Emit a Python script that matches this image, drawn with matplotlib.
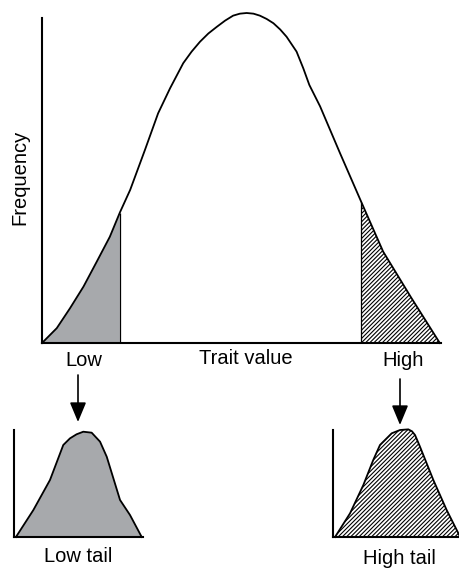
import matplotlib
matplotlib.use("Agg")
import matplotlib.pyplot as plt
import numpy as np

plt.rcParams['font.family'] = ['Liberation Sans', 'DejaVu Sans']
plt.rcParams['hatch.linewidth'] = 0.8

# Main distribution (trait value vs frequency)
main_x = [0, 3.7, 7.0, 10.4, 13.7, 17.0, 19.5, 22.1, 25.8, 29.1, 32.1, 35.4, 37.5, 39.6,
          41.7, 43.8, 45.9, 47.9, 49.6, 51.3, 53.0, 54.6, 56.3, 58.0, 59.7, 61.3, 63.8,
          65.5, 67.0, 69.7, 74.7, 80.0, 85.5, 92.5, 99.7]
main_y = [0, 4.5, 10.5, 17.1, 24.6, 32.2, 39.5, 46.4, 58.5, 69.6, 77.2, 84.8, 88.3, 91.3,
          93.8, 95.8, 97.7, 99.2, 99.8, 100, 99.8, 99.2, 98.2, 96.9, 95.0, 92.8, 88.3,
          83.2, 78.2, 71.7, 57.5, 42.8, 27.7, 13.8, 0]
low_cut = 19.5
high_cut = 80.0

# Low tail distribution
low_x = [1.5, 15.0, 27.9, 38.2, 43.4, 48.5, 53.7, 60.2, 66.7, 71.9, 82.2, 89.9, 99.0]
low_y = [0, 25.2, 53.3, 86.0, 92.2, 96.0, 98.4, 97.5, 89.1, 75.0, 34.6, 20.6, 0]

# High tail distribution
high_x = [1.6, 13.4, 23.9, 31.7, 37.0, 46.2, 52.8, 59.3, 62.2, 64.6, 68.5, 79.0, 89.5, 98.7, 100]
high_y = [0, 22.1, 48.6, 72.0, 86.0, 96.9, 100, 100.6, 98.8, 95.3, 84.4, 53.3, 25.2, 3.5, 0]

labels = {"xlabel": "Trait value", "ylabel": "Frequency", "low": "Low", "high": "High",
          "low_tail": "Low tail", "high_tail": "High tail"}

W, H = 460, 569
fig = plt.figure(figsize=(W / 100, H / 100), dpi=100)

def px_axes(left, top, right, bottom):
    return fig.add_axes([left / W, 1 - bottom / H, (right - left) / W, (bottom - top) / H])

GRAY = '#a7a9ac'
LW = 1.3
SPW = 1.5
HATCH = '////////'

def style(ax, ytop):
    ax.set_xlim(0, 100)
    ax.set_ylim(0, 100)
    for s in ['top', 'right']:
        ax.spines[s].set_visible(False)
    ax.spines['left'].set_linewidth(SPW)
    ax.spines['bottom'].set_linewidth(SPW)
    ax.spines['left'].set_bounds(0, ytop)
    ax.set_xticks([])
    ax.set_yticks([])
    ax.patch.set_alpha(0)

# Main axes
ax = px_axes(42, 13, 441, 343)
style(ax, 98.5)
mx = np.array(main_x)
my = np.array(main_y)
lm = mx <= low_cut
ax.fill_between(mx[lm], 0, my[lm], facecolor=GRAY, edgecolor='none')
ax.vlines(low_cut, 0, my[mx == low_cut][0], color='black', lw=0.9)
hm = mx >= high_cut
ax.fill_between(mx[hm], 0, my[hm], facecolor='white', edgecolor='black', hatch=HATCH, lw=0)
ax.vlines(high_cut, 0, my[mx == high_cut][0], color='black', lw=0.9)
ax.plot(mx, my, color='black', lw=LW, clip_on=False, solid_joinstyle='round')

# Low tail inset
ax1 = px_axes(14, 430, 143, 537)
style(ax1, 100)
ax1.fill_between(low_x, 0, low_y, facecolor=GRAY, edgecolor='none')
ax1.plot(low_x, low_y, color='black', lw=LW, clip_on=False, solid_joinstyle='round')

# High tail inset
ax2 = px_axes(333, 430, 460, 537)
style(ax2, 100)
ax2.fill_between(high_x, 0, high_y, facecolor='white', edgecolor='black', hatch=HATCH, lw=0)
ax2.plot(high_x, high_y, color='black', lw=LW, clip_on=False, solid_joinstyle='round')

# Overlay for text and arrows (pixel coordinates)
ov = fig.add_axes([0, 0, 1, 1])
ov.set_xlim(0, W)
ov.set_ylim(H, 0)
ov.axis('off')
ov.patch.set_alpha(0)

FS = 14.5
ov.text(246, 358, labels["xlabel"], ha='center', va='center', fontsize=FS)
ov.text(84, 360, labels["low"], ha='center', va='center', fontsize=FS)
ov.text(403, 360, labels["high"], ha='center', va='center', fontsize=FS)
ov.text(20, 177, labels["ylabel"], ha='center', va='center', fontsize=FS, rotation=90)
ov.text(78, 557, labels["low_tail"], ha='center', va='center', fontsize=FS)
ov.text(399, 558, labels["high_tail"], ha='center', va='center', fontsize=FS)

for x, y0, y1 in [(78, 375, 422), (400, 379, 425)]:
    ov.annotate('', xy=(x, y1), xytext=(x, y0),
                arrowprops=dict(arrowstyle='-|>,head_length=1.2,head_width=0.5',
                                color='black', lw=1.2, shrinkA=0, shrinkB=0))

fig.savefig('out.png', dpi=100)
